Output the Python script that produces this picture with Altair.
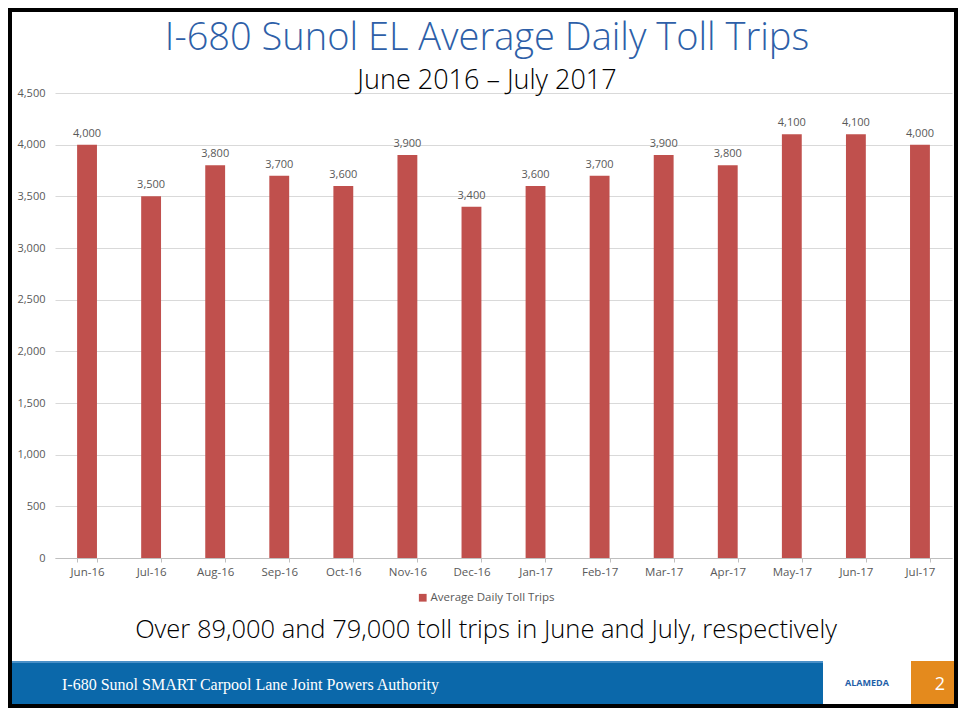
import altair as alt
import pandas as pd

months = ["Jun-16", "Jul-16", "Aug-16", "Sep-16", "Oct-16", "Nov-16", "Dec-16",
          "Jan-17", "Feb-17", "Mar-17", "Apr-17", "May-17", "Jun-17", "Jul-17"]
trips = [4000, 3500, 3800, 3700, 3600, 3900, 3400, 3600, 3700, 3900, 3800, 4100, 4100, 4000]
series_name = "Average Daily Toll Trips"
y_ticks = [0, 500, 1000, 1500, 2000, 2500, 3000, 3500, 4000, 4500]

title_text = "I-680 Sunol EL Average Daily Toll Trips"
subtitle_text = "June 2016 \u2013 July 2017"
caption_text = "Over 89,000 and 79,000 toll trips in June and July, respectively"
footer_text = "I-680 Sunol SMART Carpool Lane Joint Powers Authority"
page_number = "2"

FONT = "Open Sans"
GRAY = "#595959"
RED = "#c0504d"

df = pd.DataFrame({"month": months, "trips": trips, "series": [series_name] * len(months)})
one = pd.DataFrame({"k": [0]})

x_enc = alt.X("month:N", sort=months, title=None,
              scale=alt.Scale(paddingInner=0.69, paddingOuter=0.345),
              axis=alt.Axis(labelAngle=0, labelFont=FONT, labelFontSize=11.5, labelColor=GRAY,
                            domainColor="#bfbfbf", tickColor="#bfbfbf", tickSize=4,
                            tickBand="extent", labelPadding=4, grid=False))
y_enc = alt.Y("trips:Q", title=None,
              scale=alt.Scale(domain=[0, 4500], nice=False),
              axis=alt.Axis(values=y_ticks, format=",.0f", labelFont=FONT, labelFontSize=11,
                            labelColor=GRAY, domain=False, ticks=False, labelPadding=10,
                            gridColor="#d9d9d9", grid=True))

base = alt.Chart(df).encode(x=x_enc, y=y_enc)

bars = base.mark_bar(color=RED).encode(
    color=alt.Color("series:N", scale=alt.Scale(range=[RED]),
                    legend=alt.Legend(orient="none", legendX=362, legendY=499, title=None,
                                      symbolType="square", symbolSize=60, symbolStrokeWidth=0,
                                      labelFont=FONT, labelFontSize=11.5, labelColor=GRAY,
                                      labelOffset=2))
)
labels = base.mark_text(font=FONT, fontSize=11, color=GRAY, dy=-8, baseline="alphabetic").encode(
    text=alt.Text("trips:Q", format=",")
)

def txt(text, x, y, size, color, font=FONT, align="center", weight="normal"):
    return alt.Chart(one).mark_text(text=text, font=font, fontSize=size, color=color,
                                    align=align, baseline="middle", fontWeight=weight).encode(
        x=alt.value(x), y=alt.value(y))

def rect(x, x2, y, y2, color):
    return alt.Chart(one).mark_rect(color=color).encode(
        x=alt.value(x), x2=alt.value(x2), y=alt.value(y), y2=alt.value(y2))

title = txt(title_text, 432, -54, 38, "#2e5fa8", weight=300)
subtitle = txt(subtitle_text, 432, -12, 27, "#000000", weight=300)
caption = txt(caption_text, 431, 537, 25.5, "#000000", weight=300)

footer_bg = rect(-47, 768, 568, 615, "#0b68aa")
footer_line = rect(-47, 768, 568, 570, "#4a90c8")
orange = rect(856, 903, 568, 615, "#e48a1d")
footer_label = txt(footer_text, 7, 592, 16, "#ffffff", font="Liberation Serif", align="left")
page_lbl = txt(page_number, 885, 592, 18, "#ffffff")
logo = txt("ALAMEDA", 812, 590, 9, "#1f5fa8", weight="bold")

frame = alt.Chart(one).mark_rect(fill=None, stroke="#000000", strokeWidth=4).encode(
    x=alt.value(-45), x2=alt.value(901), y=alt.value(-83), y2=alt.value(613))

chart = alt.layer(
    bars, labels, title, subtitle, caption,
    footer_bg, footer_line, orange, footer_label, page_lbl, logo, frame
).properties(
    width=897, height=465,
    padding={"left": 47, "top": 85, "right": 6, "bottom": 150},
    autosize="none",
    background="#ffffff"
).configure_view(stroke=None)

chart.save("out.html", embed_options={"renderer": "svg", "actions": False})
